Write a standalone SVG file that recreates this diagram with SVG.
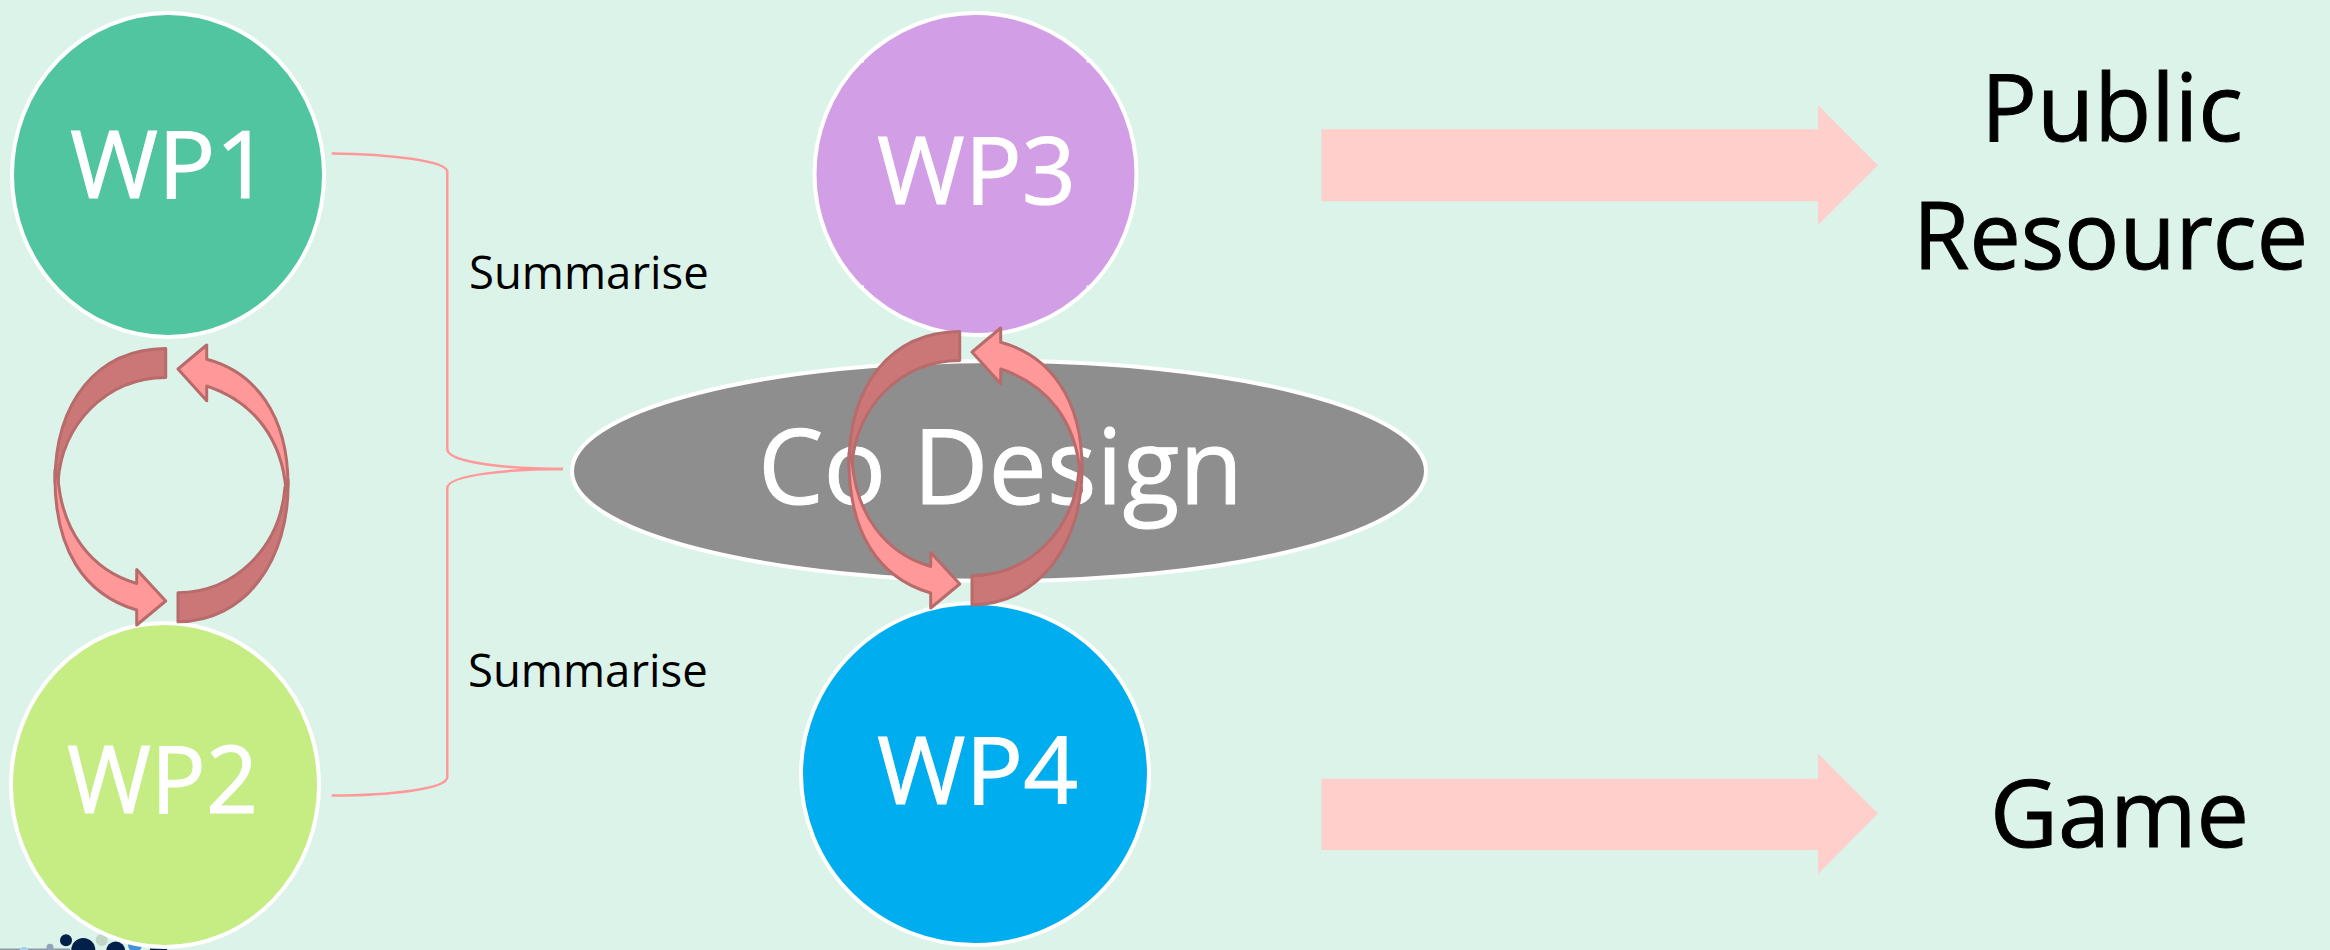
<svg xmlns="http://www.w3.org/2000/svg" width="2330" height="950" viewBox="0 0 2330 950">
<style>
text{font-family:"Open Sans","Noto Sans","Liberation Sans",sans-serif}
.node{stroke:#fff;stroke-width:4}
.w{fill:#fff;stroke:#fff;stroke-width:1;font-size:94px}
.k{fill:#000;stroke:#000;stroke-width:1;font-size:94px}
.s{fill:#000;font-size:45.5px}
.brace{fill:none;stroke:#FF9999;stroke-width:2.5}
.lt{fill:#FF9999;stroke:#B86B6B;stroke-width:3;stroke-linejoin:round}
.dk{fill:#CC7777;stroke:#B86B6B;stroke-width:3;stroke-linejoin:round}
.big{fill:#FFCFCB}
.tick{fill:#fff}
</style>
<defs>
<g id="cycle">
<path class="dk" d="M165.7 348.5C97 349 55 402 55 482C56 487 57 487 58 482C62 425 105 378 165.7 377.5Z"/>
<path class="dk" d="M178 592.7C235 592 280 548 285 487L288 480C290 560 245 622 178 621.7Z"/>
<path class="lt" d="M178 369L206.7 345V359.3C255 372 288 415 288 485L286 490C282 440 255 402 206.7 386V400.7Z"/>
<path class="lt" d="M165.7 601L136.7 569.5V583.5C90 570 62 530 58 478L55 470C53 550 85 595 136.7 610V625Z"/>
</g>
</defs>
<rect width="2330" height="950" fill="#DCF3EA"/>
<g id="logo">
<rect x="0" y="948.5" width="70" height="1.5" fill="#8E9AA8"/>
<circle cx="24" cy="952" r="5" fill="#9FD0EE"/>
<circle cx="50" cy="947.3" r="3.5" fill="#8FA3BC"/>
<circle cx="66" cy="940.3" r="6" fill="#02204A"/>
<circle cx="83.3" cy="950" r="12" fill="#02204A"/>
<circle cx="101.7" cy="940" r="6" fill="#C2D6C8"/>
<circle cx="115.7" cy="951" r="9.5" fill="#02204A"/>
<circle cx="135" cy="945" r="7" fill="#4A90D9"/>
<rect x="150" y="948.5" width="17" height="1.5" fill="#02204A"/>
</g>
<g id="wp1"><ellipse class="node" cx="168" cy="175" rx="156" ry="162" fill="#50C5A0"/><text class="w" x="70" y="198" textLength="200" lengthAdjust="spacingAndGlyphs">WP1</text></g>
<g id="wp2"><ellipse class="node" cx="165" cy="785" rx="154" ry="162" fill="#C5ED84"/><text class="w" x="67" y="813" textLength="191" lengthAdjust="spacingAndGlyphs">WP2</text></g>
<g id="wp3"><ellipse class="node" cx="975.5" cy="174" rx="161" ry="161" fill="#D29EE6"/><text class="w" x="877" y="204" textLength="199" lengthAdjust="spacingAndGlyphs">WP3</text>
<rect class="tick" x="860.5" y="59" width="3.5" height="3.5"/><rect class="tick" x="1086.5" y="59" width="3.5" height="3.5"/><rect class="tick" x="860.5" y="285.5" width="3.5" height="3.5"/><rect class="tick" x="1086.5" y="285.5" width="3.5" height="3.5"/></g>
<g id="codesign"><ellipse class="node" cx="999" cy="471" rx="427" ry="110" fill="#8E8E8E"/><text class="w" x="758" y="504" style="font-size:104px" textLength="485" lengthAdjust="spacingAndGlyphs">Co Design</text></g>
<g id="wp4"><ellipse class="node" cx="975" cy="774" rx="174" ry="171" fill="#00AEEF"/><text class="w" x="877" y="804" textLength="201" lengthAdjust="spacingAndGlyphs">WP4</text></g>
<g id="connectors">
<path class="brace" d="M331.7 153.5C390 154 447.3 161 447.3 172V449C447.3 463 510 469 563 469"/>
<path class="brace" d="M563 469C510 469 447.3 475 447.3 488V777C447.3 789 390 795.6 331.7 795.6"/>
<use href="#cycle"/>
<use href="#cycle" x="794" y="-17"/>
<path class="big" d="M1321.4 129.3H1818V105.3L1878 165.3L1818 225V201.3H1321.4Z"/>
<path class="big" d="M1321.4 778.7H1818V753.5L1878 813.5L1818 874V850H1321.4Z"/>
</g>
<text class="s" x="469" y="289">Summarise</text>
<text class="s" x="468" y="687">Summarise</text>
<g id="public"><text class="k" x="1981" y="141" textLength="262" lengthAdjust="spacingAndGlyphs">Public</text><text class="k" x="1913" y="269" textLength="395" lengthAdjust="spacingAndGlyphs">Resource</text></g>
<g id="game"><text class="k" x="1990" y="847" textLength="259" lengthAdjust="spacingAndGlyphs">Game</text></g>
</svg>
